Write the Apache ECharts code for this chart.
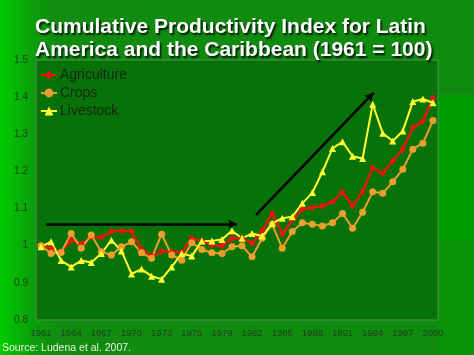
<!DOCTYPE html>
<html><head><meta charset="utf-8">
<script src="https://cdn.jsdelivr.net/npm/echarts@6/dist/echarts.min.js"></script>
<style>html,body{margin:0;padding:0;}#c{width:474px;height:355px;}</style>
</head><body><div id="c"></div>
<script>
const years = [];
for (let y = 1961; y <= 2000; y++) years.push(String(y));
const agriculture = [1.00,0.993,0.984,1.015,1.004,1.024,1.022,1.038,1.04,1.038,0.99,0.972,0.985,0.984,0.982,1.02,1.013,1.002,0.999,1.02,
  1.02,1.006,1.04,1.087,1.031,1.069,1.098,1.103,1.107,1.118,1.144,1.107,1.145,1.21,1.195,1.228,1.26,1.318,1.336,1.397];
const crops = [1.00,0.979,0.982,1.033,0.993,1.029,0.984,0.975,0.997,1.011,0.981,0.966,1.031,0.975,0.961,1.008,0.99,0.981,0.979,0.997,
  1.0,0.97,1.02,1.058,0.993,1.038,1.062,1.058,1.053,1.062,1.087,1.047,1.09,1.145,1.141,1.172,1.206,1.26,1.276,1.337];
const livestock = [0.997,1.011,0.96,0.943,0.96,0.955,0.979,1.015,0.986,0.924,0.937,0.918,0.91,0.943,0.979,0.972,1.013,1.013,1.017,1.04,
  1.02,1.033,1.026,1.06,1.074,1.078,1.114,1.143,1.199,1.262,1.28,1.241,1.235,1.381,1.303,1.282,1.309,1.388,1.395,1.385];
// arrows: [startIndex, startValue, endIndex, endValue]
const arrowFlat = [0.5, 1.058, 19.5, 1.058];
const arrowRise = [21.4, 1.083, 33.1, 1.412];

const chart = echarts.init(document.getElementById('c'));
const lbl = {color:'#22401f', fontFamily:'Liberation Sans, Arial, sans-serif'};
chart.setOption({
  animation:false,
  backgroundColor:{type:'linear',x:0,y:0,x2:1,y2:0,colorStops:[
    {offset:0,color:'#00cc00'},{offset:0.07,color:'#0a9e0a'},{offset:0.12,color:'#118c11'},{offset:1,color:'#0e8a0e'}]},
  graphic:[
    {type:'rect',left:438,top:95,shape:{width:36,height:145},style:{fill:'#009e00'},z:-10},
    {type:'rect',left:438,top:240,shape:{width:36,height:115},style:{fill:'#079207'},z:-10},
    {type:'text',left:2,top:343,style:{text:'Source: Ludena et al. 2007.',fill:'#e8f5e0',font:'10.5px "Liberation Sans", Arial, sans-serif'}}
  ],
  title:{
    text:'Cumulative Productivity Index for Latin\nAmerica and the Caribbean (1961 = 100)',
    left:30,top:11,
    textStyle:{color:'#ffffff',fontSize:21,fontWeight:'bold',lineHeight:23,fontFamily:'Liberation Sans, Arial, sans-serif',
      textShadowColor:'rgba(0,0,0,0.85)',textShadowBlur:2,textShadowOffsetX:1.5,textShadowOffsetY:1.5}
  },
  legend:{
    orient:'vertical',left:35,top:63,itemGap:4,itemWidth:16,itemHeight:11,
    data:['Agriculture','Crops','Livestock'],
    textStyle:{color:'#152815',fontSize:14,fontFamily:'Liberation Sans, Arial, sans-serif',padding:[0,0,0,-2]}
  },
  grid:{left:36,right:36,top:60,bottom:35,show:true,backgroundColor:'#077207',borderColor:'#4e954e',borderWidth:1},
  xAxis:[
    {type:'category',data:years,boundaryGap:true,
      axisLine:{show:false},axisTick:{show:false},
      axisLabel:Object.assign({interval:2,fontSize:9.5,margin:8},lbl)},
    {type:'value',min:-0.5,max:39.5,show:false}
  ],
  yAxis:{type:'value',min:0.8,max:1.5,interval:0.1,
    axisLine:{show:false},axisTick:{show:false},splitLine:{show:false},
    axisLabel:Object.assign({fontSize:10,margin:8,formatter:v=>String(Math.round(v*10)/10)},lbl)},
  series:[
    {name:'Agriculture',type:'line',data:agriculture,symbol:'diamond',symbolSize:7,showAllSymbol:true,
      lineStyle:{color:'#e01a0c',width:2.5},itemStyle:{color:'#e01a0c'}},
    {name:'Crops',type:'line',data:crops,symbol:'circle',symbolSize:7,showAllSymbol:true,
      lineStyle:{color:'#ee9e2e',width:2},itemStyle:{color:'#ee9e2e'}},
    {name:'Livestock',type:'line',data:livestock,symbol:'triangle',symbolSize:7,showAllSymbol:true,
      lineStyle:{color:'#ffff30',width:2},itemStyle:{color:'#ffff30'}},
    {name:'arrows',type:'line',xAxisIndex:1,data:[],silent:true,
      markLine:{silent:true,symbol:['none','arrow'],symbolSize:[7,9],label:{show:false},
        lineStyle:{color:'#000000',width:2.5,type:'solid'},
        data:[
          [{coord:[arrowFlat[0],arrowFlat[1]]},{coord:[arrowFlat[2],arrowFlat[3]]}],
          [{coord:[arrowRise[0],arrowRise[1]]},{coord:[arrowRise[2],arrowRise[3]]}]
        ]}}
  ]
});
</script></body></html>
